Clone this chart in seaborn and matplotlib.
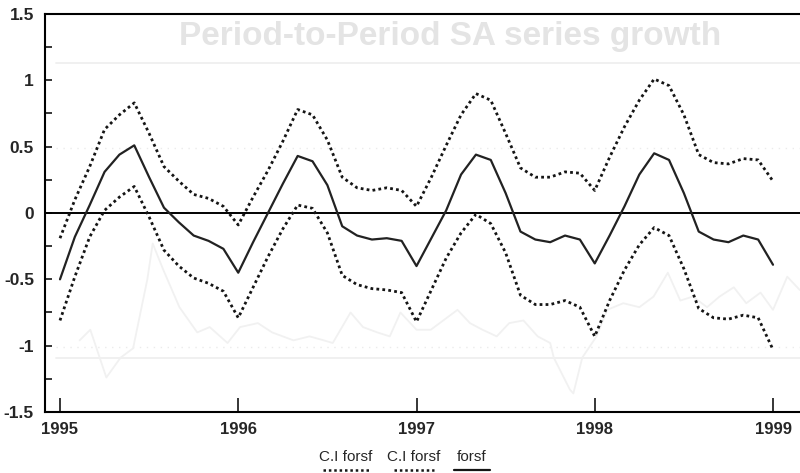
#!/usr/bin/env python3
"""
Forecast of period-to-period growth with confidence band (C.I forsf).
"""

import numpy as np
import pandas as pd
import matplotlib
matplotlib.use("Agg")
import matplotlib.pyplot as plt
from matplotlib.lines import Line2D
from matplotlib.ticker import MultipleLocator
import seaborn as sns

# monthly forecast, Jan 1995 .. Jan 1999
forsf = [
    -0.50, -0.18, 0.06, 0.31, 0.44, 0.51, 0.27, 0.04, -0.07, -0.17, -0.21, -0.27,
    -0.45, -0.22, 0.00, 0.22, 0.43, 0.39, 0.21, -0.10, -0.17, -0.20, -0.19, -0.21,
    -0.40, -0.19, 0.02, 0.29, 0.44, 0.40, 0.15, -0.14, -0.20, -0.22, -0.17, -0.20,
    -0.38, -0.17, 0.05, 0.29, 0.45, 0.40, 0.15, -0.14, -0.20, -0.22, -0.17, -0.20,
    -0.39,
]
ci_upper = [
    -0.19, 0.10, 0.35, 0.63, 0.74, 0.83, 0.60, 0.35, 0.24, 0.14, 0.11, 0.05,
    -0.09, 0.12, 0.32, 0.54, 0.78, 0.74, 0.55, 0.27, 0.19, 0.17, 0.19, 0.17,
    0.05, 0.27, 0.51, 0.74, 0.90, 0.85, 0.60, 0.34, 0.27, 0.27, 0.31, 0.30,
    0.17, 0.42, 0.65, 0.85, 1.01, 0.96, 0.74, 0.44, 0.38, 0.37, 0.41, 0.40,
    0.24,
]
ci_lower = [
    -0.81, -0.48, -0.18, 0.02, 0.12, 0.20, -0.03, -0.28, -0.40, -0.49, -0.53, -0.59,
    -0.79, -0.56, -0.33, -0.12, 0.06, 0.035, -0.15, -0.47, -0.54, -0.57, -0.58, -0.60,
    -0.82, -0.58, -0.34, -0.15, -0.01, -0.08, -0.30, -0.62, -0.69, -0.69, -0.66, -0.71,
    -0.93, -0.66, -0.43, -0.24, -0.11, -0.17, -0.42, -0.72, -0.79, -0.80, -0.77, -0.79,
    -1.03,
]

# faint show-through from the other side of the scanned page
ghost_x = [1995.11, 1995.17, 1995.26, 1995.34, 1995.41, 1995.49, 1995.52, 1995.58,
           1995.67, 1995.77, 1995.84, 1995.94, 1996.01, 1996.11, 1996.19, 1996.31,
           1996.40, 1996.48, 1996.53, 1996.63, 1996.70, 1996.78, 1996.85, 1996.91,
           1997.00, 1997.08, 1997.15, 1997.23, 1997.30, 1997.37, 1997.45, 1997.52,
           1997.60, 1997.68, 1997.75, 1997.77, 1997.86, 1997.88, 1997.93, 1998.01,
           1998.07, 1998.16, 1998.25, 1998.33, 1998.41, 1998.48, 1998.55, 1998.63,
           1998.70, 1998.78, 1998.85, 1998.93, 1999.00, 1999.08, 1999.15]
ghost_y = [-0.96, -0.88, -1.24, -1.09, -1.02, -0.50, -0.23, -0.43,
           -0.71, -0.90, -0.86, -0.98, -0.86, -0.83, -0.90, -0.96,
           -0.93, -0.96, -0.98, -0.75, -0.86, -0.90, -0.93, -0.75,
           -0.88, -0.88, -0.81, -0.73, -0.83, -0.88, -0.93, -0.83,
           -0.81, -0.93, -0.98, -1.09, -1.33, -1.36, -1.09, -0.93,
           -0.73, -0.68, -0.71, -0.63, -0.45, -0.66, -0.63, -0.71,
           -0.63, -0.56, -0.68, -0.60, -0.73, -0.48, -0.58]
ghost_frame = [1.13, -1.09]
ghost_grid = [0.49, -1.01]
ghost_title = "Period-to-Period SA series growth"

years = [1995, 1996, 1997, 1998, 1999]
yticks = [-1.5, -1, -0.5, 0, 0.5, 1, 1.5]
ytick_labels = ["-1.5", "-1", "-0.5", "0", "0.5", "1", "1.5"]
legend_labels = ["C.I forsf", "C.I forsf", "forsf"]

months = np.arange(len(forsf))
df = pd.DataFrame({
    "date": 1995 + months / 12.0,
    "forsf": forsf,
    "ci_upper": ci_upper,
    "ci_lower": ci_lower,
})

sns.set_style("white")
plt.rcParams["font.family"] = ["Liberation Sans", "DejaVu Sans"]
plt.rcParams["axes.unicode_minus"] = False

fig = plt.figure(figsize=(8, 4.73), dpi=100)
ax = fig.add_axes([45 / 800, 1 - 412 / 473, 1 - 45 / 800, (412 - 14) / 473])

# scan show-through, very light
fig.text(450 / 800, 1 - 37 / 473, ghost_title, color="#e4e4e4", fontsize=24,
         fontweight="bold", ha="center", va="center")
for yv in ghost_frame:
    ax.axhline(yv, xmin=0.015, color="#efefef", lw=1.3, zorder=0)
for yv in ghost_grid:
    ax.axhline(yv, xmin=0.015, color="#ebebeb", lw=1.0, linestyle=(0, (1, 4)), zorder=0)
sns.lineplot(x=ghost_x, y=ghost_y, ax=ax, color="#f1f1f1", lw=1.3, zorder=0)

ax.axhline(0, color="black", lw=1.4, zorder=1)

dot = (0, (1.0, 1.15))
sns.lineplot(data=df, x="date", y="ci_upper", ax=ax, color="#151515", lw=2.0,
             linestyle=dot, zorder=2)
sns.lineplot(data=df, x="date", y="ci_lower", ax=ax, color="#151515", lw=2.0,
             linestyle=dot, zorder=2)
sns.lineplot(data=df, x="date", y="forsf", ax=ax, color="#222222", lw=1.6, zorder=3)

ax.set_xlim(1995 - 15 / 178.25, 1995 + 740 / 178.25)
ax.set_ylim(-1.5, 1.5)
ax.set_xlabel("")
ax.set_ylabel("")

ax.set_xticks(years)
ax.set_xticklabels([str(y) for y in years])
ax.set_yticks(yticks)
ax.set_yticklabels(ytick_labels)
ax.yaxis.set_minor_locator(MultipleLocator(0.25))

ax.tick_params(axis="y", which="both", direction="in", length=5, width=1.3,
               left=True, pad=8, labelsize=12.5)
ax.tick_params(axis="x", which="major", direction="in", length=10, width=1.3,
               bottom=True, pad=7, labelsize=12)
for lab in ax.get_xticklabels() + ax.get_yticklabels():
    lab.set_fontweight("bold")

for side in ["left", "bottom", "top"]:
    ax.spines[side].set_visible(True)
    ax.spines[side].set_color("black")
    ax.spines[side].set_linewidth(1.5)
ax.spines["right"].set_visible(False)

# legend: label text with the line sample underneath
centers = [346, 414, 472]
widths = [46, 40, 36]
styles = [dot, dot, "-"]
for lab, cx, w, ls in zip(legend_labels, centers, widths, styles):
    fig.text(cx / 800, 1 - 457 / 473, lab, fontsize=11, ha="center", va="center")
    fig.add_artist(Line2D([(cx - w / 2) / 800, (cx + w / 2) / 800],
                          [1 - 470 / 473, 1 - 470 / 473], color="#151515",
                          lw=1.6 if ls == "-" else 1.8, linestyle=ls,
                          transform=fig.transFigure))

fig.savefig("out.png", dpi=100)
